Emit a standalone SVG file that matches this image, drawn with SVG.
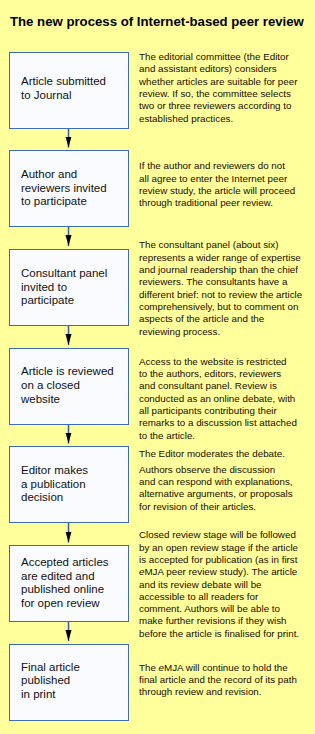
<svg xmlns="http://www.w3.org/2000/svg" width="315" height="734" viewBox="0 0 315 734">
<style>
.title{font-family:"Liberation Sans",Arial,Helvetica,sans-serif;font-size:13.2px;font-weight:bold;fill:#000}
.box{fill:#FAFBFF;stroke:#3A6DB3;stroke-width:1}
.bt{font-family:"Liberation Sans",Arial,Helvetica,sans-serif;font-size:11.5px;fill:#111}
.dt{font-family:"Liberation Sans",Arial,Helvetica,sans-serif;font-size:9.8px;fill:#1a0d00}
.con{stroke:#2E5FA8;stroke-width:1.5;fill:none}
</style>
<defs>
<marker id="ah" markerUnits="userSpaceOnUse" markerWidth="12" markerHeight="7" refX="11" refY="3.5" orient="auto" viewBox="0 0 12 7">
<path d="M0,0.5 L11,3.5 L0,6.5 z" fill="#000"/>
</marker>
</defs>
<rect x="0" y="0" width="315" height="734" fill="#FFFF9C"/>
<text class="title" x="10" y="26">The new process of Internet-based peer review</text>

<g id="connectors">
<line class="con" x1="68.5" y1="129" x2="68.5" y2="147.5" marker-end="url(#ah)"/>
<line class="con" x1="68.5" y1="227" x2="68.5" y2="246" marker-end="url(#ah)"/>
<line class="con" x1="68.5" y1="326" x2="68.5" y2="345" marker-end="url(#ah)"/>
<line class="con" x1="68.5" y1="425" x2="68.5" y2="443.5" marker-end="url(#ah)"/>
<line class="con" x1="68.5" y1="523" x2="68.5" y2="542.5" marker-end="url(#ah)"/>
<line class="con" x1="68.5" y1="622" x2="68.5" y2="641" marker-end="url(#ah)"/>
</g>

<g id="node1">
<rect class="box" x="9.5" y="52.5" width="119" height="76"/>
<text class="bt" x="21" y="85">Article submitted</text>
<text class="bt" x="21" y="99">to Journal</text>
</g>
<g id="node2">
<rect class="box" x="9.5" y="150.5" width="119" height="76"/>
<text class="bt" x="21" y="177.7">Author and</text>
<text class="bt" x="21" y="191.5">reviewers invited</text>
<text class="bt" x="21" y="205.3">to participate</text>
</g>
<g id="node3">
<rect class="box" x="9.5" y="249.5" width="119" height="76"/>
<text class="bt" x="21" y="276.7">Consultant panel</text>
<text class="bt" x="21" y="290.5">invited to</text>
<text class="bt" x="21" y="304.3">participate</text>
</g>
<g id="node4">
<rect class="box" x="9.5" y="348.5" width="119" height="76"/>
<text class="bt" x="21" y="375">Article is reviewed</text>
<text class="bt" x="21" y="389">on a closed</text>
<text class="bt" x="21" y="402.7">website</text>
</g>
<g id="node5">
<rect class="box" x="9.5" y="446.5" width="119" height="76"/>
<text class="bt" x="21" y="474.3">Editor makes</text>
<text class="bt" x="21" y="487.7">a publication</text>
<text class="bt" x="21" y="501">decision</text>
</g>
<g id="node6">
<rect class="box" x="9.5" y="545.5" width="119" height="76"/>
<text class="bt" x="21" y="566">Accepted articles</text>
<text class="bt" x="21" y="579.5">are edited and</text>
<text class="bt" x="21" y="593.3">published online</text>
<text class="bt" x="21" y="606.8">for open review</text>
</g>
<g id="node7">
<rect class="box" x="9.5" y="644.5" width="119" height="76"/>
<text class="bt" x="21" y="670.7">Final article</text>
<text class="bt" x="21" y="684.4">published</text>
<text class="bt" x="21" y="698.2">in print</text>
</g>

<g id="descriptions">
<text class="dt" x="139" y="60">The editorial committee (the Editor</text>
<text class="dt" x="139" y="72.3">and assistant editors) considers</text>
<text class="dt" x="139" y="84.7">whether articles are suitable for peer</text>
<text class="dt" x="139" y="97">review. If so, the committee selects</text>
<text class="dt" x="139" y="109.3">two or three reviewers according to</text>
<text class="dt" x="139" y="121.7">established practices.</text>

<text class="dt" x="139" y="169.3">If the author and reviewers do not</text>
<text class="dt" x="139" y="181.7">all agree to enter the Internet peer</text>
<text class="dt" x="139" y="194">review study, the article will proceed</text>
<text class="dt" x="139" y="206.3">through traditional peer review.</text>

<text class="dt" x="139" y="248.3">The consultant panel (about six)</text>
<text class="dt" x="139" y="260.7">represents a wider range of expertise</text>
<text class="dt" x="139" y="273">and journal readership than the chief</text>
<text class="dt" x="139" y="285.3">reviewers. The consultants have a</text>
<text class="dt" x="139" y="297.7">different brief: not to review the article</text>
<text class="dt" x="139" y="310">comprehensively, but to comment on</text>
<text class="dt" x="139" y="322.3">aspects of the article and the</text>
<text class="dt" x="139" y="334.7">reviewing process.</text>

<text class="dt" x="139" y="364.7">Access to the website is restricted</text>
<text class="dt" x="139" y="377">to the authors, editors, reviewers</text>
<text class="dt" x="139" y="389.3">and consultant panel. Review is</text>
<text class="dt" x="139" y="401.7">conducted as an online debate, with</text>
<text class="dt" x="139" y="414">all participants contributing their</text>
<text class="dt" x="139" y="426.3">remarks to a discussion list attached</text>
<text class="dt" x="139" y="438.9">to the article.</text>

<text class="dt" x="139" y="456.7">The Editor moderates the debate.</text>

<text class="dt" x="139" y="472.7">Authors observe the discussion</text>
<text class="dt" x="139" y="485">and can respond with explanations,</text>
<text class="dt" x="139" y="497.3">alternative arguments, or proposals</text>
<text class="dt" x="139" y="509.7">for revision of their articles.</text>

<text class="dt" x="139" y="538.3">Closed review stage will be followed</text>
<text class="dt" x="139" y="550.7">by an open review stage if the article</text>
<text class="dt" x="139" y="563">is accepted for publication (as in first</text>
<text class="dt" x="139" y="575.3"><tspan font-style="italic">e</tspan>MJA peer review study). The article</text>
<text class="dt" x="139" y="587.5">and its review debate will be</text>
<text class="dt" x="139" y="599.8">accessible to all readers for</text>
<text class="dt" x="139" y="612">comment. Authors will be able to</text>
<text class="dt" x="139" y="624.3">make further revisions if they wish</text>
<text class="dt" x="139" y="636.5">before the article is finalised for print.</text>

<text class="dt" x="139" y="670.7">The <tspan font-style="italic">e</tspan>MJA will continue to hold the</text>
<text class="dt" x="139" y="683">final article and the record of its path</text>
<text class="dt" x="139" y="695.3">through review and revision.</text>
</g>
</svg>
